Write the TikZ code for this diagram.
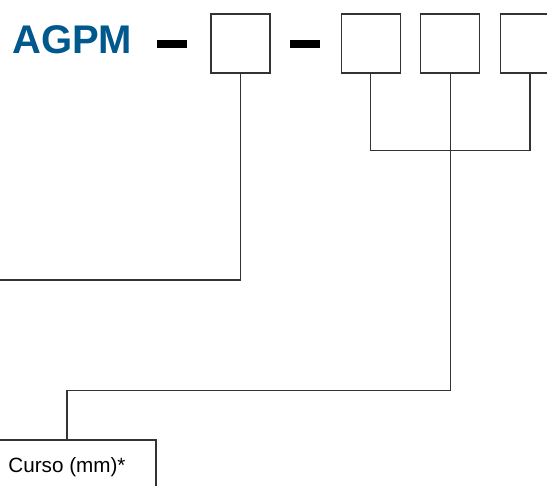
\documentclass[tikz,border=0pt]{standalone}
\usepackage{fontspec}
\setmainfont{Liberation Sans}
\usetikzlibrary{positioning}
\definecolor{agblue}{RGB}{0,88,140}
\definecolor{agline}{RGB}{51,51,51}
\tikzstyle{codebox} = [rectangle, minimum width=44.25pt, minimum height=44.25pt, inner sep=0pt, draw=agline, line width=0.8pt]
\tikzstyle{dashbar} = [rectangle, minimum width=22.5pt, minimum height=6pt, inner sep=0pt, fill=black]
\tikzstyle{link} = [draw=agline, line width=0.8pt]
\begin{document}
\begin{tikzpicture}[x=0.75pt, y=-0.75pt]
\clip (0,0) rectangle (547,486);
% Order code
\node (code) [anchor=base west, inner sep=0pt, text=agblue, font=\bfseries\fontsize{30}{30}\selectfont] at (12,53) {AGPM};
\node (dash1) [dashbar] at (172,43.5) {};
\node (box1) [codebox] at (240.5,43.5) {};
\node (dash2) [dashbar] at (305,43.5) {};
\node (box2) [codebox, right=52.5pt of box1] {};
\node (box3) [codebox, right=14.6pt of box2] {};
\node (box4) [codebox, right=14.6pt of box3] {};

% Stroke field
\node (curso) [codebox, minimum width=133.5pt, minimum height=40.5pt, font=\fontsize{15.5}{15.5}\selectfont] at (67,467) {Curso (mm)*};

% Connectors
\coordinate (free1) at (0,280);
\draw[link] (box1.south) |- (free1);
\draw[link] (box2.south) -- ++(0,77) -| (box4.south);
\draw[link, line width=1.6pt] (box4.south) -- ++(0,77);
\draw[link] (box3.south) -- ++(0,317) -| (curso.north);
\end{tikzpicture}
\end{document}
